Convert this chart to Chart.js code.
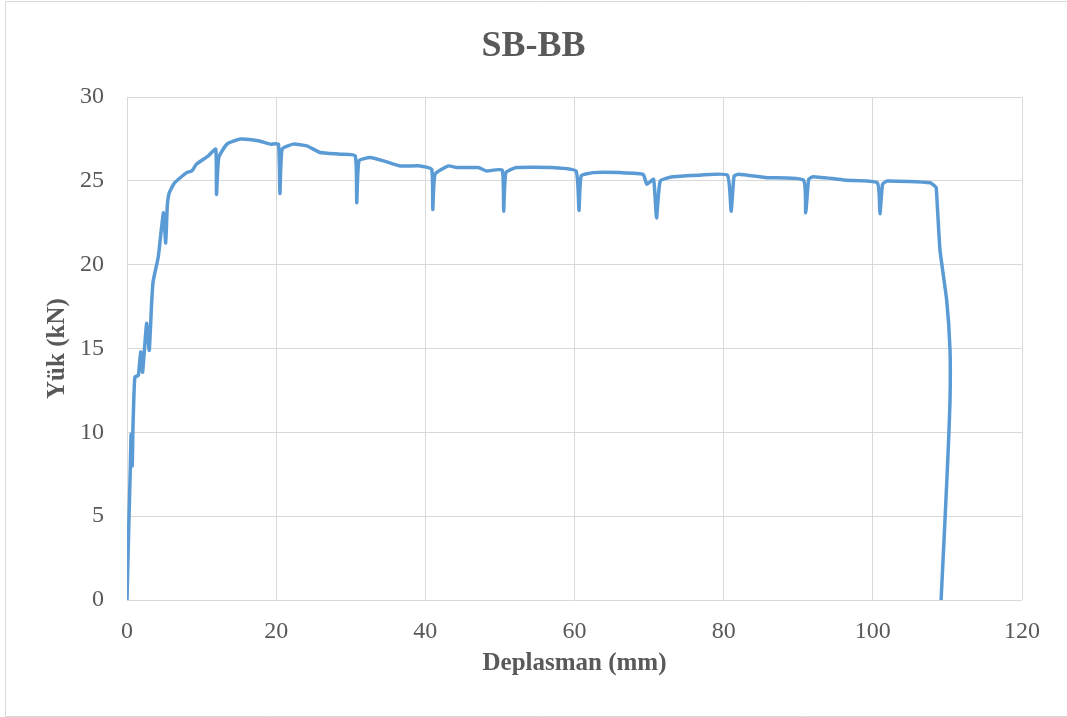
<!DOCTYPE html>
<html>
<head>
<meta charset="utf-8">
<script src="https://cdn.jsdelivr.net/npm/chart.js@4.4.1/dist/chart.umd.min.js"></script>
<style>
  html, body { margin: 0; padding: 0; background: #fff; }
  #wrap { position: relative; width: 1067px; height: 717px; }
</style>
</head>
<body>
<div id="wrap"><canvas id="chart" width="1067" height="717"></canvas></div>
<script>
// Deplasman (mm) / Yük (kN)
var deplasman = [0, 0.27, 0.45, 0.55, 0.7, 0.8, 1.05, 1.52, 1.83, 2.09, 2.63, 2.98, 3.3, 3.5, 4.2, 4.88, 5.19, 5.4, 5.67, 6.4, 8.0, 8.7, 9.3, 10.9, 11.9,
  12.0, 12.3, 13.4, 15.2, 17.6, 19.2, 20.3, 20.5, 20.8, 22.3, 24.1, 25.9, 28.6, 30.6, 30.8, 31.1, 32.6, 34.4, 36.6, 39.3,
  40.85, 41.0, 41.3, 43.1, 44.2, 47.1, 48.2, 50.3, 50.5, 50.8, 52.2, 57.1, 60.2, 60.6, 60.9, 62.5, 66.1, 69.2, 69.7, 70.6,
  71.0, 71.5, 73.2, 76.8, 80.5, 81.0, 81.4, 82.0, 85.8, 90.7, 91.0, 91.4, 92.0, 96.5, 100.6, 100.95, 101.3, 101.9, 107.7,
  108.3, 108.5, 109.0, 109.9, 110.35, 110.35, 110.1, 109.7, 109.15];
var yuk = [0, 4.95, 8.0, 9.9, 8.0, 10.3, 13.3, 13.4, 14.8, 13.6, 16.5, 14.9, 17.7, 19.0, 20.5, 23.1, 21.3, 23.5, 24.3, 24.9, 25.5, 25.6, 26.0, 26.5, 26.9,
  24.2, 26.4, 27.2, 27.5, 27.4, 27.2, 27.2, 24.25, 26.9, 27.2, 27.1, 26.7, 26.6, 26.5, 23.7, 26.2, 26.4, 26.2, 25.9, 25.9,
  25.7, 23.3, 25.4, 25.9, 25.8, 25.8, 25.6, 25.65, 23.2, 25.5, 25.8, 25.8, 25.6, 23.25, 25.3, 25.5, 25.5, 25.4, 24.8, 25.1,
  22.8, 25.0, 25.25, 25.35, 25.35, 23.2, 25.3, 25.4, 25.2, 25.05, 23.1, 25.1, 25.25, 25.05, 24.9, 23.05, 24.8, 25.0, 24.9,
  24.7, 24.6, 20.9, 17.9, 14.9, 11.9, 8.9, 5.0, 0];

var xTicks = [0, 20, 40, 60, 80, 100, 120];
var yTicks = [0, 5, 10, 15, 20, 25, 30];

var points = deplasman.map(function (x, i) { return { x: x, y: yuk[i] }; });

var textColor = '#595959';
var gridColor = '#d9d9d9';
var serif = "'Liberation Serif', 'Times New Roman', serif";

// outer light frame like the office chart box
var framePlugin = {
  id: 'frame',
  beforeDraw: function (chart) {
    var c = chart.ctx;
    c.save();
    c.fillStyle = '#ffffff';
    c.fillRect(0, 0, chart.width, chart.height);
    c.strokeStyle = gridColor;
    c.lineWidth = 1;
    c.beginPath();
    c.moveTo(1067, 1.5);
    c.lineTo(5.5, 1.5);
    c.lineTo(5.5, 716.5);
    c.lineTo(1067, 716.5);
    c.stroke();
    c.restore();
  }
};

var ctx = document.getElementById('chart').getContext('2d');

new Chart(ctx, {
  type: 'scatter',
  data: {
    datasets: [{
      data: points,
      showLine: true,
      borderColor: '#5b9bd5',
      borderWidth: 3.5,
      pointRadius: 0,
      tension: 0.15,
      borderJoinStyle: 'round',
      borderCapStyle: 'round'
    }]
  },
  options: {
    responsive: false,
    animation: false,
    layout: { padding: 0 },
    plugins: {
      legend: { display: false },
      tooltip: { enabled: false },
      title: {
        display: true,
        text: 'SB-BB',
        color: textColor,
        font: { family: serif, size: 36, weight: 'bold', lineHeight: 1.2 },
        padding: { top: 25, bottom: 29 }
      }
    },
    scales: {
      x: {
        type: 'linear',
        min: 0,
        max: 120,
        afterBuildTicks: function (s) { s.ticks = xTicks.map(function (v) { return { value: v }; }); },
        afterFit: function (s) { s.height = 117; },
        grid: { color: gridColor, drawTicks: false },
        border: { display: false },
        ticks: { color: textColor, padding: 17, font: { family: serif, size: 24 } },
        title: {
          display: true,
          text: 'Deplasman (mm)',
          color: textColor,
          font: { family: serif, size: 25, weight: 'bold', lineHeight: 1.2 },
          padding: { top: 38, bottom: 38 }
        }
      },
      y: {
        type: 'linear',
        min: 0,
        max: 30,
        afterBuildTicks: function (s) { s.ticks = yTicks.map(function (v) { return { value: v }; }); },
        afterFit: function (s) { s.width = 127; },
        grid: { color: gridColor, drawTicks: false },
        border: { display: false },
        ticks: { color: textColor, padding: 23, font: { family: serif, size: 24 } },
        title: {
          display: true,
          text: 'Yük (kN)',
          color: textColor,
          font: { family: serif, size: 25, weight: 'bold', lineHeight: 1.2 },
          padding: { top: 43, bottom: 43 }
        }
      },
      // empty right-hand strip so the plot ends at 120 mm where the picture does
      yRight: {
        type: 'linear',
        position: 'right',
        min: 0,
        max: 30,
        afterFit: function (s) { s.width = 45; },
        grid: { display: false, drawOnChartArea: false },
        border: { display: false },
        ticks: { display: false }
      }
    }
  },
  plugins: [framePlugin]
});
</script>
</body>
</html>
